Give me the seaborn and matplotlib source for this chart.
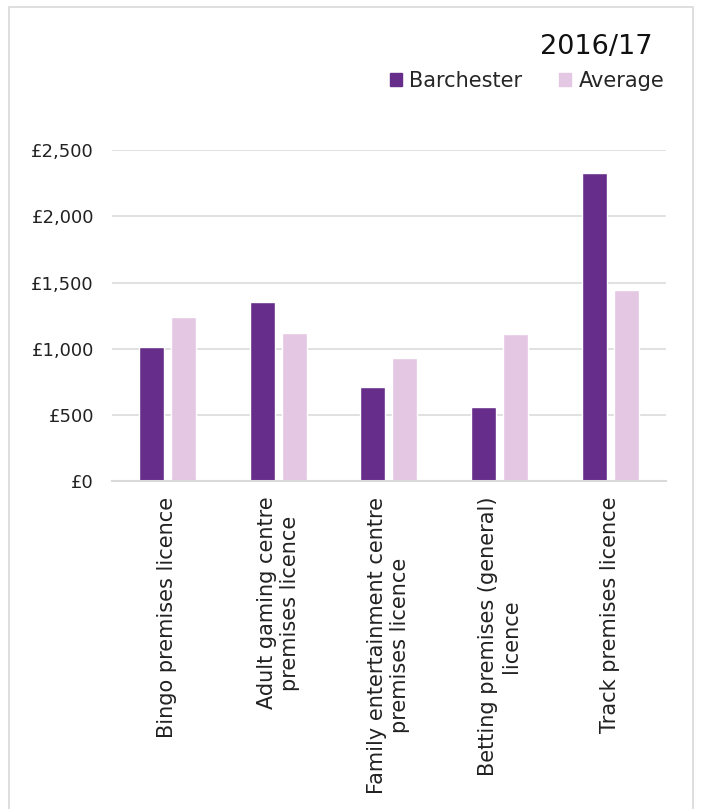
import matplotlib
matplotlib.use("Agg")
import matplotlib.pyplot as plt
from matplotlib.patches import Rectangle
from matplotlib.ticker import FuncFormatter
import pandas as pd
import seaborn as sns

# data
categories = [
    "Bingo premises licence",
    "Adult gaming centre\npremises licence",
    "Family entertainment centre\npremises licence",
    "Betting premises (general)\nlicence",
    "Track premises licence",
]
barchester = [1011, 1351, 712, 561, 2326]
average = [1237, 1122, 933, 1112, 1444]
series = ["Barchester", "Average"]
colours = ["#662d8a", "#e4c7e2"]

df = pd.DataFrame({
    "licence": categories * 2,
    "fee": barchester + average,
    "area": [series[0]] * len(categories) + [series[1]] * len(categories),
})

sns.set_theme(style="white")
plt.rcParams["font.family"] = ["DejaVu Sans"]

fig = plt.figure(figsize=(7.01, 8.09), dpi=100)
ax = fig.add_axes([112 / 701, 1 - 481.3 / 809, (665.7 - 112) / 701, (481.3 - 150) / 809])

sns.barplot(data=df, x="licence", y="fee", hue="area", palette=colours,
            saturation=1, width=0.575, gap=0.215, ax=ax, legend=False,
            errorbar=None)

ax.set_ylim(0, 2500)
ax.set_yticks(range(0, 2501, 500))
ax.yaxis.set_major_formatter(FuncFormatter(lambda v, p: f"£{int(v):,}"))
ax.set_xlim(-0.5, len(categories) - 0.5)
ax.set_xlabel("")
ax.set_ylabel("")
ax.grid(axis="y", color="#d9d9d9", linewidth=1.1)
ax.set_axisbelow(True)
for side in ["top", "right", "left"]:
    ax.spines[side].set_visible(False)
ax.spines["bottom"].set_color("#d9d9d9")
ax.spines["bottom"].set_linewidth(1.5)
ax.tick_params(axis="y", length=0, pad=13, labelsize=13, labelcolor="#222222")
ax.tick_params(axis="x", length=0, pad=11, labelsize=15, labelcolor="#222222")
for lab in ax.get_xticklabels():
    lab.set_rotation(90)
    lab.set_ha("center")
    lab.set_va("top")

# legend and title
handles = [Rectangle((0, 0), 1, 1, color=c) for c in colours]
fig.legend(handles, series, loc="center", bbox_to_anchor=(527 / 701, 1 - 81 / 809),
           ncol=2, frameon=False, fontsize=15, handlelength=0.6, handleheight=0.6,
           handletextpad=0.35, columnspacing=1.75, borderaxespad=0, borderpad=0)
fig.text(596.5 / 701, 1 - 47 / 809, "2016/17", ha="center", va="center",
         fontsize=19.5, color="#111111")

# chart border
fig.patches.append(Rectangle((9 / 701, -0.05), (693 - 9) / 701, 1.05 - 7 / 809,
                             transform=fig.transFigure, fill=False,
                             edgecolor="#d9d9d9", linewidth=1.2))

fig.savefig("out.png", dpi=100)
